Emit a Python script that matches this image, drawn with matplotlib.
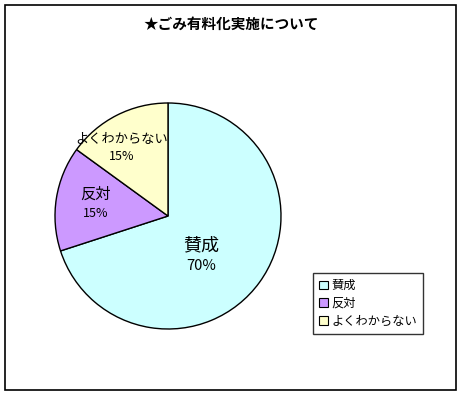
import numpy as np
import matplotlib
matplotlib.use('Agg')
import matplotlib.pyplot as plt
from matplotlib.patches import Rectangle

plt.rcParams['font.family'] = ['Noto Sans CJK JP', 'DejaVu Sans']

# data
labels = ['賛成', '反対', 'よくわからない']
values = [70, 15, 15]
colors = ['#CCFFFF', '#CC99FF', '#FFFFCC']
title = '★ごみ有料化実施について'

fig = plt.figure(figsize=(4.62, 3.93), dpi=100)

# outer frame of the chart area
fig.patches.append(Rectangle((5 / 462, 3 / 393), 451 / 462, 385 / 393, transform=fig.transFigure,
                             fill=False, edgecolor='black', linewidth=1.2))

fig.text(0.5, 1 - 24 / 393, title, ha='center', va='center', fontsize=10.5, fontweight='bold')

# pie axes: centre (168, 216) px, radius 113 px
r = 113
ax = fig.add_axes([(168 - r) / 462, (393 - 216 - r) / 393, 2 * r / 462, 2 * r / 393])
wedges, _ = ax.pie(values, colors=colors, startangle=90, counterclock=False,
                   wedgeprops=dict(edgecolor='black', linewidth=1))
ax.set_xlim(-1, 1)
ax.set_ylim(-1, 1)
ax.set_aspect('auto')

# label placement (distance from centre, angle shift) and font sizes
label_dist = [0.46, 0.65, 0.73]
angle_shift = [-14, 0, 7]
name_size = [13, 11, 9.5]
pct_size = [10.5, 9, 9]
total = sum(values)
for w, lab, v, d, s, ns, ps in zip(wedges, labels, values, label_dist, angle_shift, name_size, pct_size):
    ang = np.deg2rad((w.theta1 + w.theta2) / 2 + s)
    x, y = d * np.cos(ang), d * np.sin(ang)
    ax.annotate(lab, (x, y), xytext=(0, 1), textcoords='offset points',
                ha='center', va='bottom', fontsize=ns)
    ax.annotate('%d%%' % round(100 * v / total), (x, y), xytext=(0, -2), textcoords='offset points',
                ha='center', va='top', fontsize=ps)

leg = fig.legend(wedges, labels, loc='upper left', bbox_to_anchor=(313 / 462, 1 - 273 / 393),
                 fontsize=8.8, frameon=True, fancybox=False, handlelength=0.7, handleheight=0.7,
                 handletextpad=0.3, borderpad=0.5, labelspacing=0.4, borderaxespad=0)
leg.get_frame().set_edgecolor('black')
leg.get_frame().set_linewidth(1)
for h in leg.legend_handles:
    h.set_edgecolor('black')
    h.set_linewidth(0.8)

fig.savefig('out.png', dpi=100)
